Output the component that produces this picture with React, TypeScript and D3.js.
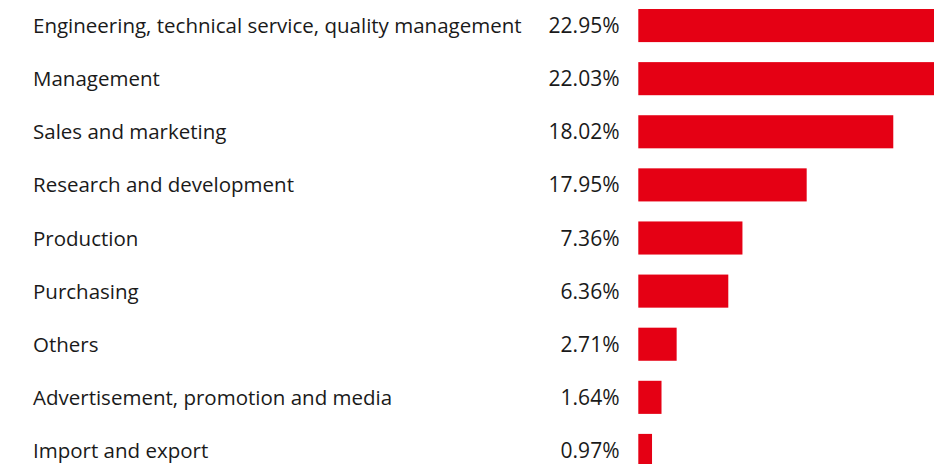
import { useMemo } from 'react';
import * as d3 from 'd3';

const categories = [
  'Engineering, technical service, quality management',
  'Management',
  'Sales and marketing',
  'Research and development',
  'Production',
  'Purchasing',
  'Others',
  'Advertisement, promotion and media',
  'Import and export',
];

// printed shares (as shown next to the bars)
const shareLabels = ['22.95%', '22.03%', '18.02%', '17.95%', '7.36%', '6.36%', '2.71%', '1.64%', '0.97%'];

// bar lengths as drawn in the picture (in %)
const barValues = [22.95, 22.03, 18.02, 11.9, 7.36, 6.36, 2.71, 1.64, 0.97];

const WIDTH = 934;
const HEIGHT = 464;
const RED = '#e50014';
const FONT = '"Open Sans", sans-serif';

const App = () => {
  const y = useMemo(
    () =>
      d3
        .scaleBand<string>()
        .domain(categories)
        .range([-1, 477])
        .paddingInner(0.377)
        .paddingOuter(0.1885),
    []
  );

  const x = useMemo(() => d3.scaleLinear().domain([0, 20]).range([638.3, 638.3 + 283]), []);

  return (
    <div style={{ position: 'fixed', left: 0, top: 0, width: WIDTH, height: HEIGHT, background: '#fff' }}>
      <svg width={WIDTH} height={HEIGHT} style={{ display: 'block' }}>
        {categories.map((c, i) => {
          const top = y(c) || 0;
          const mid = top + y.bandwidth() / 2;
          return (
            <g key={c}>
              <text x={33} y={mid + 7.5} fontFamily={FONT} fontSize={20.5} fill="#1a1a1a">
                {c}
              </text>
              <text x={619.5} y={mid + 7.5} textAnchor="end" fontFamily={FONT} fontSize={21} fill="#1a1a1a">
                {shareLabels[i]}
              </text>
              <rect x={x(0)} y={top} width={x(barValues[i]) - x(0)} height={y.bandwidth()} fill={RED} />
            </g>
          );
        })}
      </svg>
    </div>
  );
};

export default App;
